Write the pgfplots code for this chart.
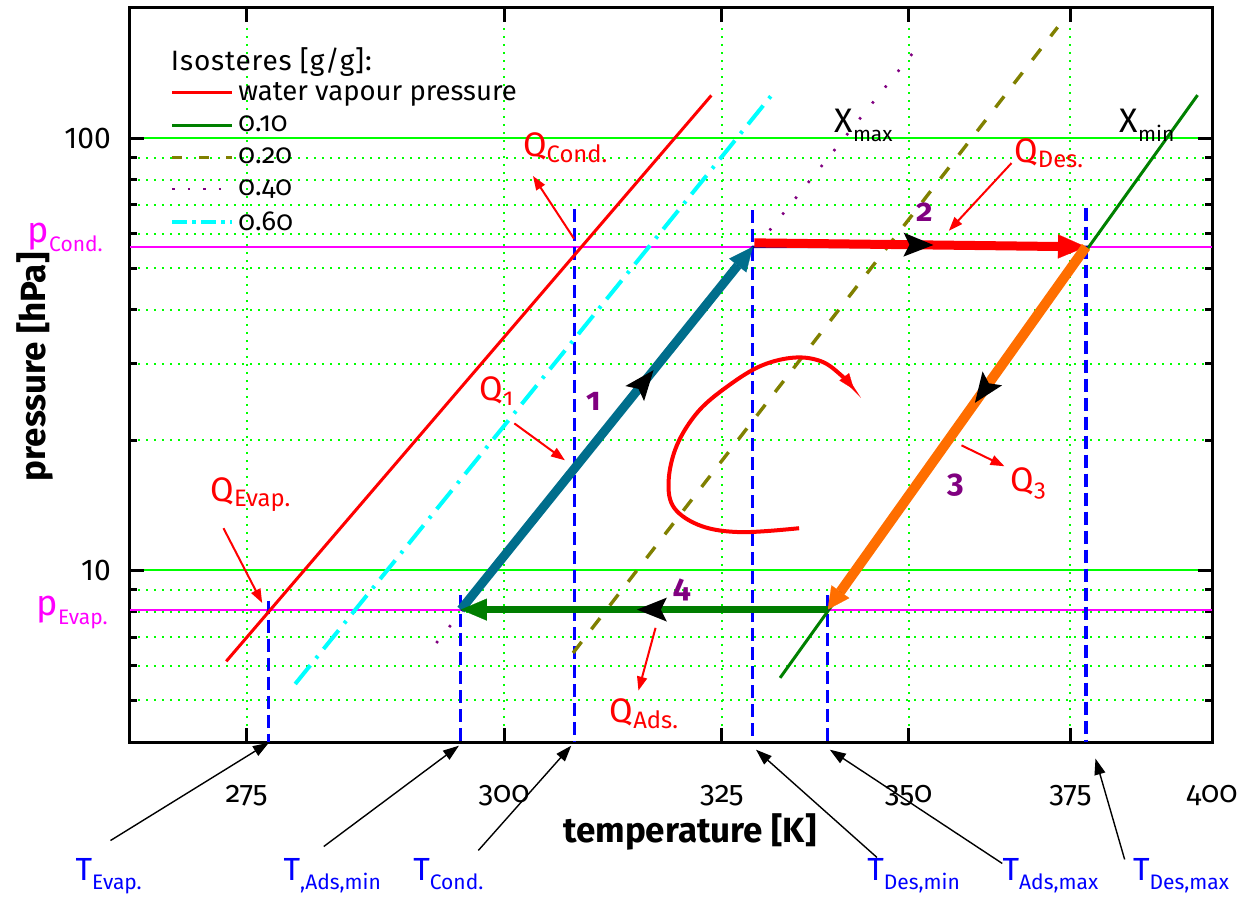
\documentclass[border=0pt]{standalone}
\usepackage{fontspec}
\setmainfont{Fira Sans}[Numbers=OldStyle]
\usepackage{pgfplots}
\pgfplotsset{compat=1.18}
\usetikzlibrary{arrows.meta,decorations.markings}

\definecolor{gridgreen}{RGB}{0,255,0}
\definecolor{isogreen}{RGB}{0,128,0}
\definecolor{isoolive}{RGB}{128,128,0}
\definecolor{isopurple}{RGB}{128,0,128}
\definecolor{isocyan}{RGB}{0,255,255}
\definecolor{magline}{RGB}{255,0,255}
\definecolor{tblue}{RGB}{0,0,255}
\definecolor{cyclenavy}{RGB}{0,0,150}
\definecolor{adsblue}{RGB}{0,110,140}
\definecolor{desorange}{RGB}{255,110,0}
\definecolor{cycgreen}{RGB}{0,125,0}

\newcommand\fs[1]{\fontsize{#1}{#1}\selectfont}
\newcommand\sub[1]{\raisebox{-4.5pt}{\fs{10.5}#1}}

\tikzset{
  midarrow/.style={postaction={arrows=-, decorate},
    decoration={markings, mark=at position #1 with {\arrow{Stealth[length=15pt,width=12pt,inset=3pt,line width=0pt,color=black]}}}},
  qarrow/.style={red, line width=1pt, -{Triangle[length=7pt,width=5pt]}},
  tarrow/.style={black, line width=0.7pt, -{Triangle[length=8pt,width=5.5pt]}},
  qlab/.style={red, anchor=base west, inner sep=0pt, font=\fs{17}},
  tlab/.style={tblue, anchor=base west, inner sep=0pt, font=\fs{16}},
  num/.style={isopurple, font=\bfseries\fs{16}},
  tdash/.style={tblue, line width=1.6pt, dash pattern=on 6.5pt off 3pt},
}

\begin{document}
\begin{tikzpicture}
\begin{axis}[
  name=ax, at={(0pt,0pt)}, anchor=south west,
  scale only axis, width=541pt, height=367pt,
  ymode=log,
  x coord trafo/.code={\pgfmathparse{-1000/#1}},
  xmin=265, xmax=400, ymin=4, ymax=200,
  xtick={275,300,325,350,375,400},
  xticklabels={275,300,325,350,375,400},
  ytick={10,100}, yticklabels={10,100},
  minor ytick={5,6,7,8,9,20,30,40,50,60,70,80,90},
  tick pos=both, tick align=inside,
  major tick length=7pt, minor tick length=3.5pt,
  tick style={black, line width=1.5pt},
  axis line style={line width=1.5pt},
  xmajorgrids, ymajorgrids, yminorgrids,
  major x grid style={gridgreen, line width=1pt, dash pattern=on 1pt off 3pt},
  major y grid style={gridgreen, line width=1pt, solid},
  minor y grid style={gridgreen, line width=1pt, dash pattern=on 1pt off 3pt},
  xticklabel style={yshift=-18pt, font=\fs{15}},
  yticklabel style={xshift=-6pt, font={\fs{15}\addfontfeatures{Numbers=Lining}}},
  xlabel={temperature [K]},
  ylabel={pressure [hPa]},
  xlabel style={at={(axis description cs:0.5176,-0.1226)}, anchor=center, font=\bfseries\fs{17.5}},
  ylabel style={at={(axis description cs:-0.0878,0.511)}, anchor=center, font=\bfseries\fs{17.5}},
  legend style={draw=none, fill=none, at={(axis description cs:0.037,0.905)},
    anchor=north west, font=\fs{13.75}, row sep=2.5pt, inner sep=0pt},
  legend cell align=left,
  legend image code/.code={\draw[#1] (0pt,0pt) -- (30pt,0pt);},
  clip=false,
]
% legend entries
\addlegendimage{red, line width=1.5pt}
\addlegendentry{water vapour pressure}
\addlegendimage{isogreen, line width=1.5pt}
\addlegendentry{0.10}
\addlegendimage{isoolive, line width=1.7pt, dash pattern=on 5pt off 8.5pt}
\addlegendentry{0.20}
\addlegendimage{isopurple, line width=1.3pt, dash pattern=on 1.2pt off 6.5pt}
\addlegendentry{0.40}
\addlegendimage{isocyan, line width=2pt, dash pattern=on 7.5pt off 2.5pt on 2pt off 2.5pt}
\addlegendentry{0.60}

% pressure levels
\addplot[forget plot, magline, line width=1pt] coordinates {(265,56) (400,56)};
\addplot[forget plot, magline, line width=1pt] coordinates {(265,8.1) (400,8.1)};

% temperature markers
\addplot[forget plot, tdash] coordinates {(277.0,8.5) (277.0,4)};
\addplot[forget plot, tdash] coordinates {(295.5,8.75) (295.5,4)};
\addplot[forget plot, tdash] coordinates {(307.7,68.5) (307.7,4)};
\addplot[forget plot, tdash] coordinates {(328.9,68) (328.9,4)};
\addplot[forget plot, tdash] coordinates {(338.7,8.75) (338.7,4)};
\addplot[forget plot, tdash] coordinates {(377.6,69) (377.6,4)};

% isosteres
\addplot[forget plot, red, line width=1.5pt] coordinates {(273.2,6.15) (323.7,125.5)};
\addplot[forget plot, isogreen, line width=1.5pt] coordinates {(332.4,5.63) (397.3,125.7)};
\addplot[forget plot, isoolive, line width=1.7pt, dash pattern=on 7pt off 8pt] coordinates {(307.5,6.43) (372.9,180.5)};
\addplot[forget plot, isopurple, line width=1.3pt, dash pattern=on 1.2pt off 9pt] coordinates {(293.0,6.78) (351.4,163)};
\addplot[forget plot, isocyan, line width=2pt, dash pattern=on 12pt off 4.5pt on 1.5pt off 4.5pt] coordinates {(279.4,5.45) (331.3,125.7)};

% cycle
\addplot[forget plot, cyclenavy, line width=1.2pt] coordinates {(295.5,8.1) (328.9,56) (377.6,56) (338.7,8.1) (295.5,8.1)};
\addplot[forget plot, adsblue, line width=4.5pt, -{Triangle[length=12pt,width=11pt,line width=0.1pt]}, midarrow=0.66]
  coordinates {(295.5,8.1) (328.9,56)};
\addplot[forget plot, red, line width=4.5pt, -{Triangle[length=14pt,width=12pt,line width=0.1pt]}, midarrow=0.54]
  coordinates {(329.1,57.2) (377.6,56)};
\addplot[forget plot, desorange, line width=5pt, -{Triangle[length=11pt,width=11pt,line width=0.1pt]}, midarrow=0.43]
  coordinates {(377.6,56) (338.7,8.1)};
\addplot[forget plot, cycgreen, line width=3.5pt, -{Triangle[length=13pt,width=11pt,line width=0.1pt]}, midarrow=0.52]
  coordinates {(338.7,8.1) (295.5,8.1)};

% direction of the cycle
\addplot[forget plot, red, line width=2pt, smooth, tension=0.6, -{Triangle[length=8pt,width=6pt,line width=0.1pt]}] coordinates {
  (334.9,12.5) (327.5,12.24) (322.5,12.64) (319.2,13.91) (318.5,16.05) (319.5,19.44)
  (322.1,23.29) (325.85,26.75) (330.0,29.74) (334.3,31.04) (337.9,30.39) (340.6,28.2) (342.3,26.18)};

% legend title
\node[anchor=base west, inner sep=0pt, font={\fs{14}\addfontfeatures{LetterSpace=3}}] at (axis cs:268.4,143) {Isosteres [g/g]:};

% heat flows
\node[qlab] at (axis cs:302.0,90.4) {Q\textsubscript{Cond.}};
\draw[qarrow] (axis cs:307.6,58.5) -- (axis cs:303.1,81.7);
\node[qlab] at (axis cs:297.4,24.7) {Q\textsubscript{1}};
\draw[qarrow] (axis cs:301.1,21.85) -- (axis cs:306.6,17.95);
\node[qlab] at (axis cs:365.9,88.0) {Q\textsubscript{Des.}};
\draw[qarrow] (axis cs:365.5,87.5) -- (axis cs:355.9,61.0);
\node[qlab] at (axis cs:365.3,15.22) {Q\textsubscript{3}};
\draw[qarrow] (axis cs:357.8,19.44) -- (axis cs:364.4,17.39);
\node[qlab] at (axis cs:311.6,4.43) {Q\textsubscript{Ads.}};
\draw[qarrow] (axis cs:316.96,7.35) -- (axis cs:314.95,5.26);
\node[qlab] at (axis cs:271.8,14.43) {Q\textsubscript{Evap.}};
\draw[qarrow] (axis cs:272.96,12.5) -- (axis cs:276.4,8.39);

% step numbers
\node[num] at (axis cs:309.8,24.6) {1};
\node[num] at (axis cs:352.4,67.5) {2};
\node[num] at (axis cs:356.9,15.72) {3};
\node[num] at (axis cs:320.1,8.99) {4};

% loadings
\node[anchor=base west, inner sep=0pt, font=\fs{17}] at (axis cs:339.6,103.2) {X\sub{max}};
\node[anchor=base west, inner sep=0pt, font=\fs{17}] at (axis cs:383.3,103.2) {X\sub{min}};

% pressure labels
\node[magline, anchor=base east, inner sep=0pt, font=\fs{18}] at (axis cs:262.8,57.2) {p\sub{Cond.}};
\node[magline, anchor=base east, inner sep=0pt, font=\fs{18}] at (axis cs:263.2,7.87) {p\sub{Evap.}};

% temperature labels
\node[tlab] at (axis cs:260.55,1.913) {T\sub{Evap.}};
\node[tlab] at (axis cs:278.3,1.913) {T\sub{,Ads,min}};
\node[tlab] at (axis cs:290.65,1.913) {T\sub{Cond.}};
\node[tlab] at (axis cs:344.1,1.913) {T\sub{Des,min}};
\node[tlab] at (axis cs:364.05,1.913) {T\sub{Ads,max}};
\node[tlab] at (axis cs:385.6,1.913) {T\sub{Des,max}};
\draw[tarrow] (axis cs:263.4,2.366) -- (axis cs:277.0,3.987);
\draw[tarrow] (axis cs:282.05,2.292) -- (axis cs:295.3,3.923);
\draw[tarrow] (axis cs:297.3,2.244) -- (axis cs:307.3,3.923);
\draw[tarrow] (axis cs:345.5,2.162) -- (axis cs:329.3,3.84);
\draw[tarrow] (axis cs:364.05,2.094) -- (axis cs:339.0,3.84);
\draw[tarrow] (axis cs:384.2,2.139) -- (axis cs:379.2,3.661);
\end{axis}
\pgfresetboundingbox
\path (-65pt,-77pt) rectangle (562.5pt,371pt);
\end{tikzpicture}
\end{document}
